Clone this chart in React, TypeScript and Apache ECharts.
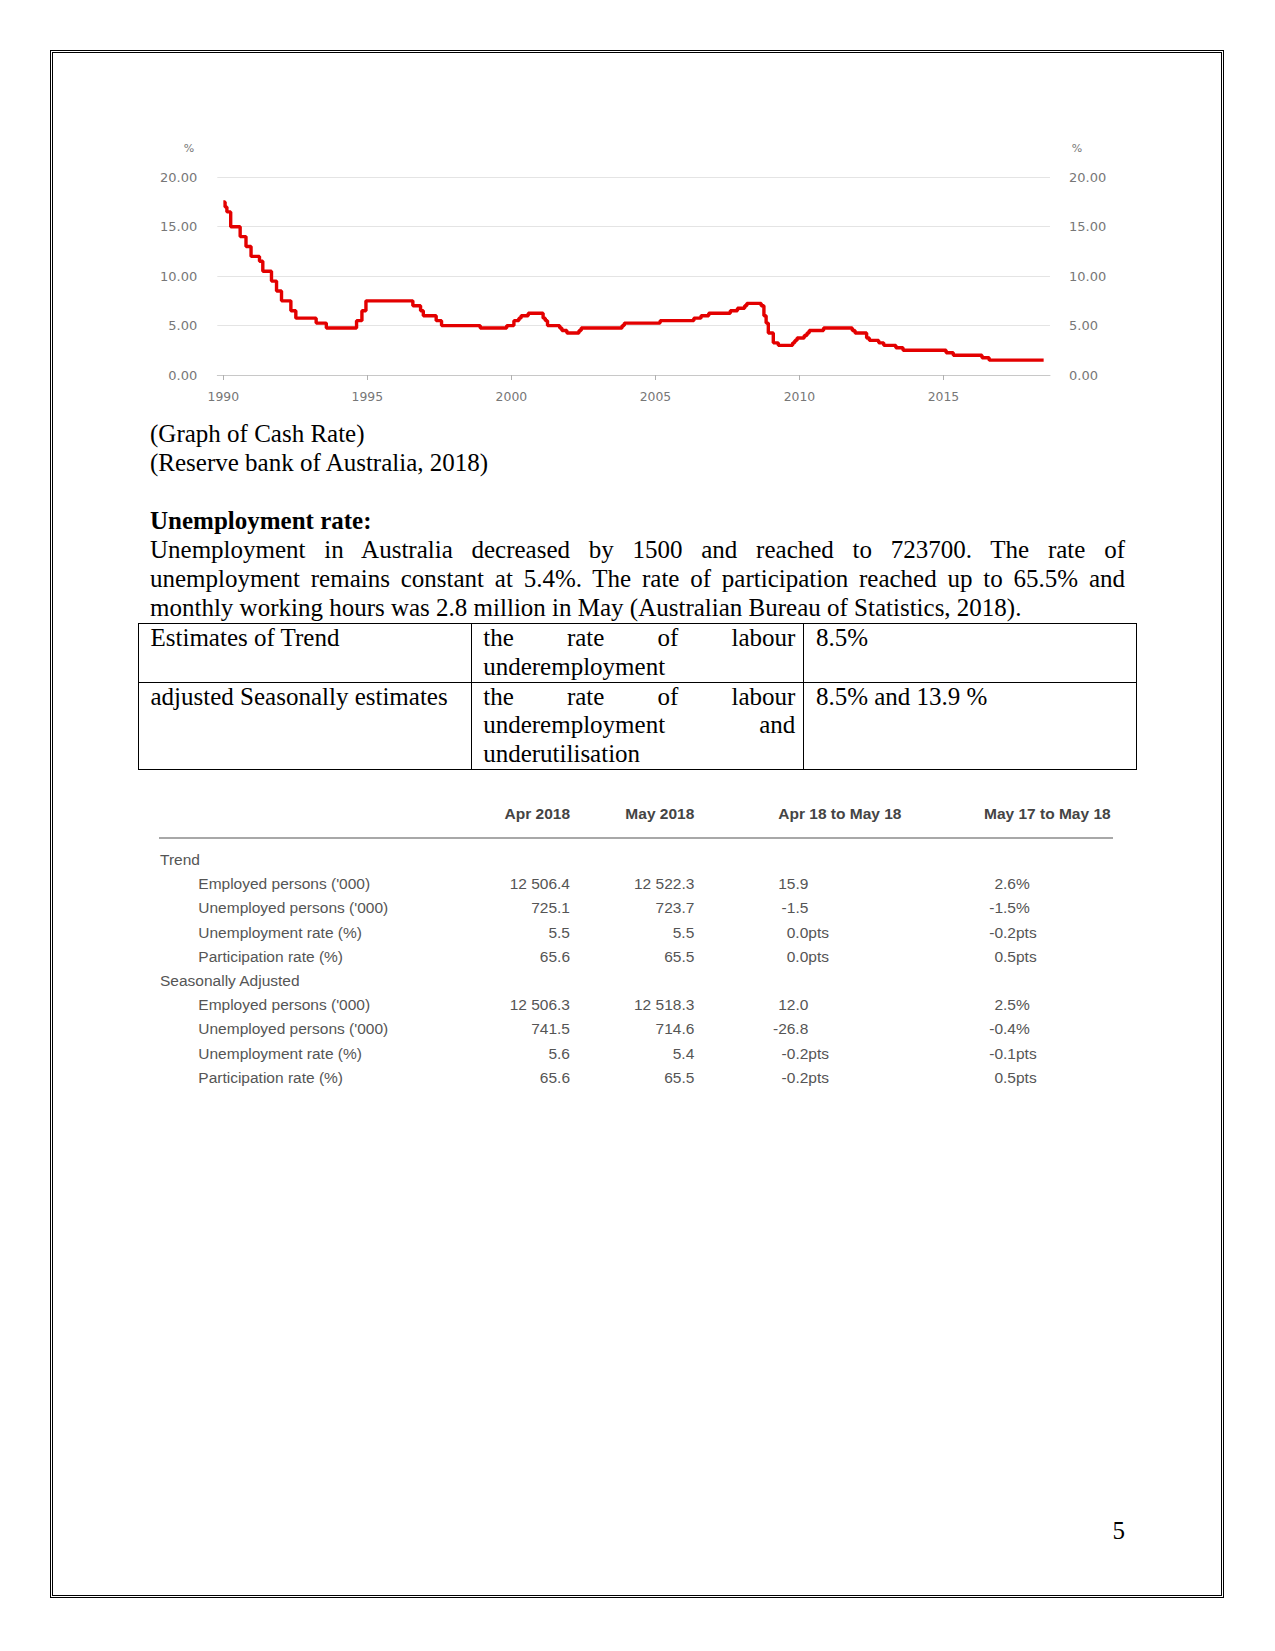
import React, { useEffect, useRef } from "react";
import * as echarts from "echarts";

// ---- Cash rate data (Reserve Bank of Australia) ----
const rateDates = [
  "1990-01-01", "1990-01-23", "1990-02-15", "1990-04-04", "1990-08-02", "1990-10-15", "1990-12-18",
  "1991-04-04", "1991-05-16", "1991-09-03", "1991-11-06", "1992-01-08", "1992-05-06", "1992-07-08",
  "1993-03-23", "1993-07-30", "1994-08-17", "1994-10-24", "1994-12-14", "1996-07-31", "1996-11-06",
  "1996-12-11", "1997-05-23", "1997-07-30", "1998-12-02", "1999-11-03", "2000-02-02", "2000-04-05",
  "2000-05-03", "2000-08-02", "2001-02-07", "2001-03-07", "2001-04-04", "2001-09-05", "2001-10-03",
  "2001-12-05", "2002-05-08", "2002-06-05", "2003-11-05", "2003-12-03", "2005-03-02", "2006-05-03",
  "2006-08-02", "2006-11-08", "2007-08-08", "2007-11-07", "2008-02-06", "2008-03-05", "2008-09-03",
  "2008-10-08", "2008-11-05", "2008-12-03", "2009-02-04", "2009-04-08", "2009-10-07", "2009-11-04",
  "2009-12-02", "2010-03-03", "2010-04-07", "2010-05-05", "2010-11-03", "2011-11-02", "2011-12-07",
  "2012-05-02", "2012-06-06", "2012-10-03", "2012-12-05", "2013-05-08", "2013-08-07", "2015-02-04",
  "2015-05-06", "2016-05-04", "2016-08-03", "2018-06-25",
];
const rateValues = [
  17.5, 17.0, 16.5, 15.0, 14.0, 13.0, 12.0,
  11.5, 10.5, 9.5, 8.5, 7.5, 6.5, 5.75,
  5.25, 4.75, 5.5, 6.5, 7.5, 7.0, 6.5,
  6.0, 5.5, 5.0, 4.75, 5.0, 5.5, 5.75,
  6.0, 6.25, 5.75, 5.5, 5.0, 4.75, 4.5,
  4.25, 4.5, 4.75, 5.0, 5.25, 5.5, 5.75,
  6.0, 6.25, 6.5, 6.75, 7.0, 7.25, 7.0,
  6.0, 5.25, 4.25, 3.25, 3.0, 3.25, 3.5,
  3.75, 4.0, 4.25, 4.5, 4.75, 4.5, 4.25,
  3.75, 3.5, 3.25, 3.0, 2.75, 2.5, 2.25,
  2.0, 1.75, 1.5, 1.5,
];
const yearTicks = [1990, 1995, 2000, 2005, 2010, 2015];
const xMin = 1989.79;
const xMax = 2018.7;

// ---- Labour force table (ABS) ----
const absHeaders = ["Apr 2018", "May 2018", "Apr 18 to May 18", "May 17 to May 18"];
const sectionNames = ["Trend", "Seasonally Adjusted"];
const rowLabels = [
  "Employed persons ('000)",
  "Unemployed persons ('000)",
  "Unemployment rate (%)",
  "Participation rate (%)",
];
const trendApr = ["12 506.4", "725.1", "5.5", "65.6"];
const trendMay = ["12 522.3", "723.7", "5.5", "65.5"];
const trendMonthly = ["15.9", "-1.5", "0.0pts", "0.0pts"];
const trendYearly = ["2.6%", "-1.5%", "-0.2pts", "0.5pts"];
const saApr = ["12 506.3", "741.5", "5.6", "65.6"];
const saMay = ["12 518.3", "714.6", "5.4", "65.5"];
const saMonthly = ["12.0", "-26.8", "-0.2pts", "-0.2pts"];
const saYearly = ["2.5%", "-0.4%", "-0.1pts", "0.5pts"];

// ---- Text ----
const captionLines = ["(Graph of Cash Rate)", "(Reserve bank of Australia, 2018)"];
const heading = "Unemployment rate:";
const paraLines = [
  "Unemployment in Australia decreased by 1500 and reached to 723700. The rate of",
  "unemployment remains constant at 5.4%. The rate of participation reached up to 65.5% and",
  "monthly working hours was 2.8 million in May (Australian Bureau of Statistics, 2018).",
];

function toYear(d: string): number {
  const [y, m, dd] = d.split("-").map(Number);
  const s = Date.UTC(y, 0, 1);
  const e = Date.UTC(y + 1, 0, 1);
  return y + (Date.UTC(y, m - 1, dd) - s) / (e - s);
}

function CashChart() {
  const ref = useRef<HTMLDivElement>(null);
  useEffect(() => {
    if (!ref.current) return;
    const chart = echarts.init(ref.current, null, { renderer: "svg" });
    const labelStyle = { color: "#777", fontFamily: "DejaVu Sans", fontSize: 13, padding: [4, 0, 0, 0] };
    chart.setOption({
      animation: false,
      grid: { left: 77.3, right: 70, top: 47.3, bottom: 38 },
      graphic: [
        { type: "text", x: 49, y: 18, style: { text: "%", fill: "#777", font: "11px DejaVu Sans", align: "center", verticalAlign: "middle" } },
        { type: "text", x: 937, y: 18, style: { text: "%", fill: "#777", font: "11px DejaVu Sans", align: "center", verticalAlign: "middle" } },
      ],
      xAxis: {
        type: "value",
        min: xMin,
        max: xMax,
        splitLine: { show: false },
        axisLine: { show: true, lineStyle: { color: "#c8c8c8", width: 1 } },
        axisTick: { show: true, length: 5, customValues: yearTicks, lineStyle: { color: "#b0b0b0" } },
        axisLabel: {
          customValues: yearTicks,
          margin: 15,
          color: "#777",
          fontFamily: "DejaVu Sans",
          fontSize: 12.4,
          formatter: (v: number) => String(Math.round(v)),
        },
      },
      yAxis: [
        {
          type: "value",
          min: 0,
          max: 20,
          interval: 5,
          position: "left",
          axisLine: { show: false },
          axisTick: { show: false },
          splitLine: { show: true, lineStyle: { color: "#e4e4e4", width: 1 } },
          axisLabel: { ...labelStyle, margin: 20, formatter: (v: number) => v.toFixed(2) },
        },
        {
          type: "value",
          min: 0,
          max: 20,
          interval: 5,
          position: "right",
          axisLine: { show: false },
          axisTick: { show: false },
          splitLine: { show: false },
          axisLabel: { ...labelStyle, margin: 19, formatter: (v: number) => v.toFixed(2) },
        },
      ],
      series: [
        {
          type: "line",
          step: "end",
          showSymbol: false,
          yAxisIndex: 0,
          lineStyle: { color: "#e30000", width: 3.4 },
          data: rateDates.map((d, i) => [toYear(d), rateValues[i]]),
        },
      ],
    });
    return () => chart.dispose();
  }, []);
  return (
    <div
      ref={ref}
      style={{ position: "absolute", left: 140, top: 130, width: 980, height: 283 }}
    />
  );
}

const serif = '"Liberation Serif", "Times New Roman", serif';
const sans = '"Liberation Sans", Arial, sans-serif';
const LH = 28.9;

function splitNum(s: string): [string, string] {
  const m = s.match(/^(-?[\d.]+)(.*)$/);
  return m ? [m[1], m[2]] : [s, ""];
}

function AbsTable() {
  const rowH = 24.2;
  const firstCenter = 860;
  const textH = 20;
  const colRight = [570, 694.3];
  const colNumRight = [808.3, 1016];
  const headerLeft = [778.3, 984];
  const items: React.ReactNode[] = [];
  const base: React.CSSProperties = {
    position: "absolute",
    fontFamily: sans,
    fontSize: 15.5,
    lineHeight: textH + "px",
    color: "#555",
    whiteSpace: "nowrap",
  };
  const hTop = 814.3 - textH / 2;
  const hs: React.CSSProperties = { ...base, top: hTop, fontWeight: "bold", color: "#444" };
  items.push(<div key="h0" style={{ ...hs, right: 1275 - colRight[0] }}>{absHeaders[0]}</div>);
  items.push(<div key="h1" style={{ ...hs, right: 1275 - colRight[1] }}>{absHeaders[1]}</div>);
  items.push(<div key="h2" style={{ ...hs, left: headerLeft[0] }}>{absHeaders[2]}</div>);
  items.push(<div key="h3" style={{ ...hs, left: headerLeft[1] }}>{absHeaders[3]}</div>);
  items.push(<div key="hl" style={{ position: "absolute", left: 159.3, top: 836.8, width: 954, height: 2, background: "#a8a8a8" }} />);

  const sections = [
    [trendApr, trendMay, trendMonthly, trendYearly],
    [saApr, saMay, saMonthly, saYearly],
  ];
  let r = 0;
  sections.forEach((cols, si) => {
    const top0 = firstCenter + rowH * r - textH / 2;
    items.push(<div key={"s" + si} style={{ ...base, top: top0, left: 160 }}>{sectionNames[si]}</div>);
    r++;
    rowLabels.forEach((lab, li) => {
      const top = firstCenter + rowH * r - textH / 2;
      items.push(<div key={`l${si}-${li}`} style={{ ...base, top, left: 198.3 }}>{lab}</div>);
      items.push(<div key={`a${si}-${li}`} style={{ ...base, top, right: 1275 - colRight[0] }}>{cols[0][li]}</div>);
      items.push(<div key={`b${si}-${li}`} style={{ ...base, top, right: 1275 - colRight[1] }}>{cols[1][li]}</div>);
      [cols[2][li], cols[3][li]].forEach((v, k) => {
        const [num, suf] = splitNum(v);
        items.push(<div key={`n${si}-${li}-${k}`} style={{ ...base, top, right: 1275 - colNumRight[k] }}>{num}</div>);
        if (suf) items.push(<div key={`x${si}-${li}-${k}`} style={{ ...base, top, left: colNumRight[k] }}>{suf}</div>);
      });
      r++;
    });
  });
  return <>{items}</>;
}

export default function App() {
  const justify: React.CSSProperties = { textAlign: "justify", textAlignLast: "justify" as any, whiteSpace: "nowrap" };
  const cell: React.CSSProperties = {
    border: "1px solid #000",
    verticalAlign: "top",
    padding: "0 8px 0 11.5px",
    width: 332.7,
    boxSizing: "border-box",
  };
  return (
    <div style={{ position: "absolute", left: 0, top: 0, width: 1275, height: 1651, background: "#fff", fontFamily: serif, color: "#000" }}>
      <div style={{ position: "absolute", left: 50, top: 50, width: 1174, height: 1548, border: "3px double #000", boxSizing: "border-box" }} />
      <CashChart />
      <div style={{ position: "absolute", left: 150, top: 420.4, width: 975, fontSize: 25, lineHeight: LH + "px" }}>
        {captionLines.map((t, i) => <div key={i}>{t}</div>)}
        <div style={{ height: LH }} />
        <div style={{ fontWeight: "bold" }}>{heading}</div>
        {paraLines.map((t, i) => (
          <div key={i} style={i < paraLines.length - 1 ? justify : { whiteSpace: "nowrap" }}>{t}</div>
        ))}
        <table style={{ borderCollapse: "collapse", marginLeft: -12, width: 998, tableLayout: "fixed", fontSize: 25, lineHeight: LH + "px" }}>
          <tbody>
            <tr>
              <td style={cell}><div style={{ whiteSpace: "nowrap" }}>Estimates of Trend</div></td>
              <td style={cell}>
                <div style={justify}>the rate of labour</div>
                <div>underemployment</div>
              </td>
              <td style={cell}>8.5%</td>
            </tr>
            <tr>
              <td style={cell}><div style={{ whiteSpace: "nowrap" }}>adjusted Seasonally estimates</div></td>
              <td style={cell}>
                <div style={justify}>the rate of labour</div>
                <div style={justify}>underemployment and</div>
                <div>underutilisation</div>
              </td>
              <td style={cell}>8.5% and 13.9 %</td>
            </tr>
          </tbody>
        </table>
      </div>
      <AbsTable />
      <div style={{ position: "absolute", right: 150, top: 1517, fontSize: 25, lineHeight: LH + "px" }}>5</div>
    </div>
  );
}
